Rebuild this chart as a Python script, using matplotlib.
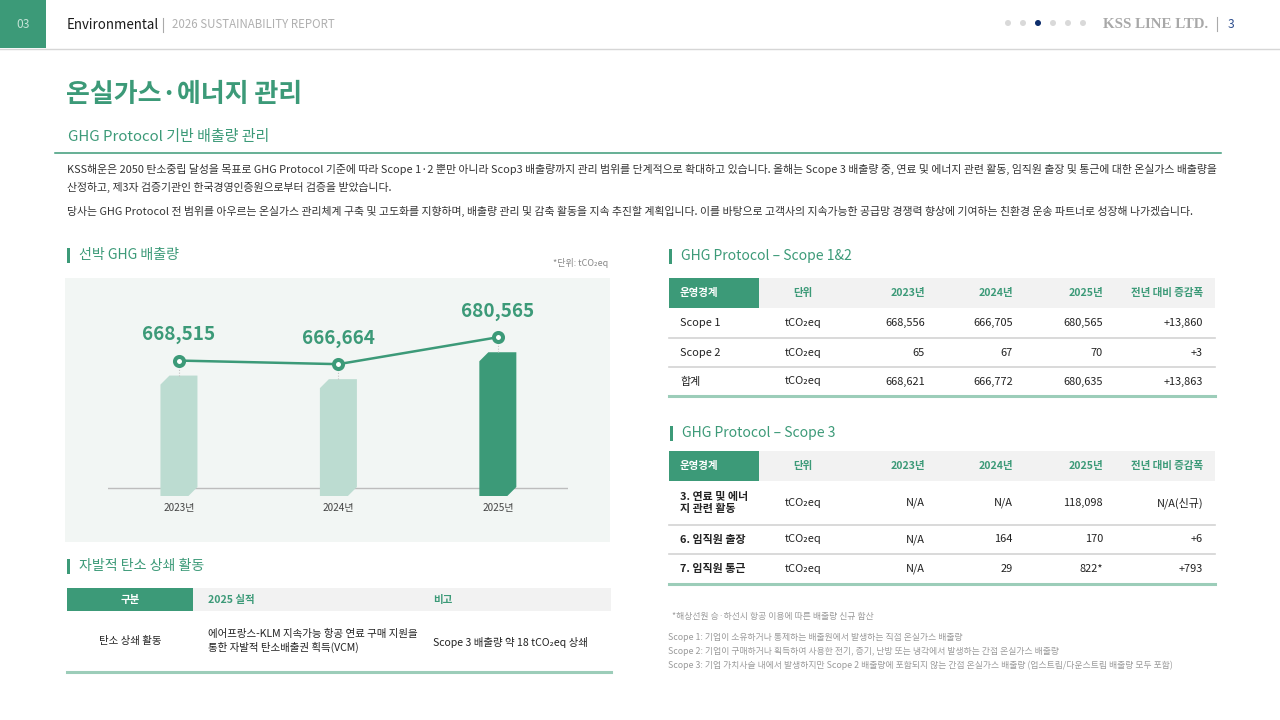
import matplotlib
matplotlib.use("Agg")
import matplotlib.pyplot as plt
from matplotlib.patches import Rectangle, Polygon, Circle

plt.rcParams['font.family'] = ['Noto Sans CJK KR', 'DejaVu Sans']

# ---------------- data ----------------
years = ["2023년", "2024년", "2025년"]
ship_ghg = [668515, 666664, 680565]

table_headers = ["운영경계", "단위", "2023년", "2024년", "2025년", "전년 대비 증감폭"]
unit_label = "tCO₂eq"

scope12_items = ["Scope 1", "Scope 2", "합계"]
scope12_2023 = [668556, 65, 668621]
scope12_2024 = [666705, 67, 666772]
scope12_2025 = [680565, 70, 680635]
scope12_change = [13860, 3, 13863]

scope3_items = ["3. 연료 및 에너\n지 관련 활동", "6. 임직원 출장", "7. 임직원 통근"]
scope3_2023 = [None, None, None]
scope3_2024 = [None, 164, 29]
scope3_2025 = [118098, 170, 822]
scope3_2025_note = ["", "", "*"]
scope3_change = ["N/A(신규)", "+6", "+793"]

offset_headers = ["구분", "2025 실적", "비고"]
offset_row = ["탄소 상쇄 활동",
              "에어프랑스-KLM 지속가능 항공 연료 구매 지원을\n통한 자발적 탄소배출권 획득(VCM)",
              "Scope 3 배출량 약 18 tCO₂eq 상쇄"]

body_lines = [
    "KSS해운은 2050 탄소중립 달성을 목표로 GHG Protocol 기준에 따라 Scope 1·2 뿐만 아니라 Scop3 배출량까지 관리 범위를 단계적으로 확대하고 있습니다. 올해는 Scope 3 배출량 중, 연료 및 에너지 관련 활동, 임직원 출장 및 통근에 대한 온실가스 배출량을",
    "산정하고, 제3자 검증기관인 한국경영인증원으로부터 검증을 받았습니다.",
    "당사는 GHG Protocol 전 범위를 아우르는 온실가스 관리체계 구축 및 고도화를 지향하며, 배출량 관리 및 감축 활동을 지속 추진할 계획입니다. 이를 바탕으로 고객사의 지속가능한 공급망 경쟁력 향상에 기여하는 친환경 운송 파트너로 성장해 나가겠습니다.",
]
footnotes = [
    "Scope 1: 기업이 소유하거나 통제하는 배출원에서 발생하는 직접 온실가스 배출량",
    "Scope 2: 기업이 구매하거나 획득하여 사용한 전기, 증기, 난방 또는 냉각에서 발생하는 간접 온실가스 배출량",
    "Scope 3: 기업 가치사슬 내에서 발생하지만 Scope 2 배출량에 포함되지 않는 간접 온실가스 배출량 (업스트림/다운스트림 배출량 모두 포함)",
]

# ---------------- style ----------------
GREEN = "#3c9a78"
LIGHT = "#bcdcd1"
PANEL = "#f2f6f4"
HEADBG = "#f2f2f2"
BOTTOMLINE = "#9ccdb9"
SEP = "#d3d3d3"
DARK = "#222222"


def fs(px):
    return px * 0.72


W, H = 1280, 720
fig = plt.figure(figsize=(12.8, 7.2), dpi=100)
fig.patch.set_facecolor("white")
page = fig.add_axes([0, 0, 1, 1])
page.set_xlim(0, W)
page.set_ylim(H, 0)
page.axis("off")

# ---- top header ----
page.add_patch(Rectangle((0, 0), 46, 48, color=GREEN, lw=0))
page.text(23, 25, "03", color="#c4e3d6", fontsize=fs(12), ha="center", va="center")
page.text(67, 25, "Environmental", color="#1a1a1a", fontsize=fs(13.3), ha="left", va="center")
page.plot([163, 163], [18, 32], color="#aaaaaa", lw=0.8)
page.text(172, 25, "2026 SUSTAINABILITY REPORT", color="#b0b0b0", fontsize=fs(11.5), ha="left", va="center")
page.plot([0, W], [48.5, 48.5], color="#d6d6d6", lw=1)
for i in range(6):
    c = "#0d2d6c" if i == 2 else "#d9d9d9"
    page.add_patch(Circle((1008 + 15 * i, 23), 3, color=c, lw=0))
page.text(1103, 24, "KSS LINE LTD.", family="Liberation Serif", weight="bold", color="#a8a8a8",
          fontsize=fs(15), ha="left", va="center")
page.plot([1217, 1217], [17, 31], color="#aaaaaa", lw=0.8)
page.text(1228, 25, "3", color="#2b4c8c", fontsize=fs(12), ha="left", va="center")

# ---- title ----
page.text(66, 95, "온실가스·에너지 관리", color=GREEN, fontsize=fs(26), weight="bold", ha="left", va="center")
page.text(68, 137, "GHG Protocol 기반 배출량 관리", color=GREEN, fontsize=fs(15), ha="left", va="center")
page.plot([55, 1221], [152.5, 152.5], color=GREEN, lw=1.1)
for y, line in zip([169, 187, 211], body_lines):
    page.text(67, y, line, color="#333333", fontsize=fs(10.9), ha="left", va="center")

# ---- section headings ----
def section(x, y, label):
    page.add_patch(Rectangle((x, y - 7.5), 3, 15, color=GREEN, lw=0))
    page.text(x + 12, y, label, color=GREEN, fontsize=fs(14), ha="left", va="center")

section(67, 255, "선박 GHG 배출량")
section(67, 566, "자발적 탄소 상쇄 활동")
section(669, 256, "GHG Protocol – Scope 1&2")
section(670, 433, "GHG Protocol – Scope 3")
page.text(608, 263, "*단위: tCO₂eq", color="#888888", fontsize=fs(9), ha="right", va="center")

# ---- chart panel ----
page.add_patch(Rectangle((65, 278), 545, 264, color=PANEL, lw=0))

ax_l, ax_t, ax_w, ax_h = 108, 300, 460, 200
axb = fig.add_axes([ax_l / W, 1 - (ax_t + ax_h) / H, ax_w / W, ax_h / H])
axb.patch.set_alpha(0)
axb.axis("off")
xs = list(range(len(years)))
axb.set_xlim(-0.445, 2.44)
axb.set_ylim(604250, 707550)
axl = axb.twinx()
axl.axis("off")
axl.set_ylim(596500, 699800)

ppx = ax_w / (axb.get_xlim()[1] - axb.get_xlim()[0])
ppy = ax_h / (axb.get_ylim()[1] - axb.get_ylim()[0])
bar_bottom = axb.get_ylim()[0] + 4 / ppy
bar_w = 37 / ppx

axb.plot([0, 1], [0.06, 0.06], transform=axb.transAxes, color="#bdbdbd", lw=1, zorder=1)
bars = axb.bar(xs, [v - bar_bottom for v in ship_ghg], bottom=bar_bottom, width=bar_w,
               color=[LIGHT, LIGHT, GREEN], zorder=2)
cdx, cdy = 9 / ppx, 9 / ppy
for rect in bars:
    x0, y0, w, h = rect.get_x(), rect.get_y(), rect.get_width(), rect.get_height()
    rect.set_visible(False)
    verts = [(x0, y0), (x0 + w - cdx, y0), (x0 + w, y0 + cdy), (x0 + w, y0 + h),
             (x0 + cdx, y0 + h), (x0, y0 + h - cdy)]
    axb.add_patch(Polygon(verts, closed=True, color=rect.get_facecolor(), lw=0, zorder=2))

for x, lab in zip(xs, years):
    axb.text(x, -0.04, lab, transform=axb.get_xaxis_transform(), ha="center", va="center",
             fontsize=fs(10), color="#444444")

off = 15 / ppy
axl.vlines(xs, [v - off for v in ship_ghg], ship_ghg, colors="#c4c4c4", linestyles=(0, (1, 1.5)), lw=0.8, zorder=3)
axl.plot(xs, ship_ghg, color=GREEN, lw=1.8, marker="o", ms=6.5, mfc="white", mec=GREEN, mew=2.9, zorder=4)
for x, v in zip(xs, ship_ghg):
    axl.annotate(f"{v:,}", (x, v), xytext=(0, 26 * 0.72), textcoords="offset points",
                 ha="center", va="center", fontsize=fs(19), weight="bold", color=GREEN)

# ---- offset table ----
page.add_patch(Rectangle((67, 588), 126, 23, color=GREEN, lw=0))
page.add_patch(Rectangle((193, 588), 418, 23, color=HEADBG, lw=0))
page.text(130, 600, offset_headers[0], color="white", weight="bold", fontsize=fs(10.5), ha="center", va="center")
page.text(208, 600, offset_headers[1], color=GREEN, weight="bold", fontsize=fs(10.5), ha="left", va="center")
page.text(433, 600, offset_headers[2], color=GREEN, weight="bold", fontsize=fs(10.5), ha="left", va="center")
page.text(130, 641, offset_row[0], color=DARK, fontsize=fs(10.5), ha="center", va="center")
page.text(208, 641, offset_row[1], color=DARK, fontsize=fs(10.5), ha="left", va="center", linespacing=1.3)
page.text(433, 642, offset_row[2], color=DARK, fontsize=fs(10.5), ha="left", va="center")
page.plot([67, 611], [672, 672], color=BOTTOMLINE, lw=2.2)

# ---- scope tables ----
col_left = 669
col_first_end = 759
col_right = 1215
unit_cx = 803
num_right = [925, 1013, 1103, 1203]


def draw_table(top, header_h, row_hs, items, cols, item_weight="normal"):
    page.add_patch(Rectangle((col_left, top), col_first_end - col_left, header_h, color=GREEN, lw=0))
    page.add_patch(Rectangle((col_first_end, top), col_right - col_first_end, header_h, color=HEADBG, lw=0))
    hy = top + header_h / 2
    page.text(col_left + 11, hy, table_headers[0], color="white", weight="bold", fontsize=fs(10.5), ha="left", va="center")
    page.text(unit_cx, hy, table_headers[1], color=GREEN, weight="bold", fontsize=fs(10.5), ha="center", va="center")
    for xr, lab in zip(num_right, table_headers[2:]):
        page.text(xr, hy, lab, color=GREEN, weight="bold", fontsize=fs(10.5), ha="right", va="center")
    y = top + header_h
    for i, (item, rh) in enumerate(zip(items, row_hs)):
        cy = y + rh / 2
        page.text(col_left + 11, cy, item, color=DARK, fontsize=fs(11), weight=item_weight,
                  ha="left", va="center", linespacing=1.35)
        page.text(unit_cx, cy, unit_label, color=DARK, fontsize=fs(11), ha="center", va="center")
        for xr, col in zip(num_right, cols):
            page.text(xr, cy, col[i], color=DARK, fontsize=fs(11), ha="right", va="center")
        y += rh
        last = i == len(items) - 1
        page.plot([col_left, col_right], [y, y], color=BOTTOMLINE if last else SEP, lw=2.2 if last else 1.2)


def fmt(v):
    return "N/A" if v is None else f"{v:,}"


t1_cols = [[fmt(v) for v in scope12_2023], [fmt(v) for v in scope12_2024],
           [fmt(v) for v in scope12_2025], [f"+{c:,}" for c in scope12_change]]
draw_table(278, 30, [30, 29, 29], scope12_items, t1_cols)

t2_cols = [[fmt(v) for v in scope3_2023], [fmt(v) for v in scope3_2024],
           [fmt(v) + n for v, n in zip(scope3_2025, scope3_2025_note)], scope3_change]
draw_table(451, 30, [44, 29, 30], scope3_items, t2_cols, item_weight="bold")

# ---- footnotes ----
page.text(672, 616, "*해상선원 승·하선시 항공 이용에 따른 배출량 신규 합산", color="#9a9a9a", fontsize=fs(8.8), ha="left", va="center")
for y, line in zip([637, 651, 665], footnotes):
    page.text(668, y, line, color="#9a9a9a", fontsize=fs(8.8), ha="left", va="center")

fig.savefig("out.png", dpi=100, facecolor="white")
